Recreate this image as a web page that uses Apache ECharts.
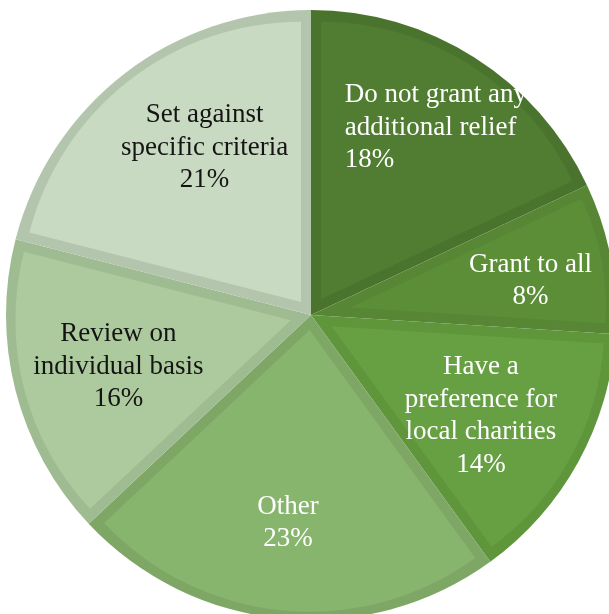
<!DOCTYPE html>
<html>
<head>
<meta charset="utf-8">
<script src="https://cdn.jsdelivr.net/npm/echarts@6/dist/echarts.min.js"></script>
<style>
  html, body { margin: 0; padding: 0; background: #ffffff; }
  #chart { width: 609px; height: 614px; }
</style>
</head>
<body>
<div id="chart"></div>
<script>
// Slices, clockwise from 12 o'clock
const categories = [
  'Do not grant any additional relief',
  'Grant to all',
  'Have a preference for local charities',
  'Other',
  'Review on individual basis',
  'Set against specific criteria'
];
const shares = [18, 8, 14, 23, 16, 21];
const labelLines = [
  ['Do not grant any', 'additional relief'],
  ['Grant to all'],
  ['Have a', 'preference for', 'local charities'],
  ['Other'],
  ['Review on', 'individual basis'],
  ['Set against', 'specific criteria']
];

// Styling
const fillColors = ['#507d32', '#5c8e38', '#67a042', '#87b56d', '#acca9d', '#c8dac1'];
const edgeColors = ['#4a742d', '#578634', '#5f953b', '#7ea766', '#9fbb91', '#b3c6ad'];
const textColors = ['#ffffff', '#ffffff', '#ffffff', '#ffffff', '#141414', '#141414'];
const labelNudge = [[23, -16], [20, 4], [-8, 3], [-4, 6], [4, 1], [18, -7]];
const leftAlignedLabel = [true, false, false, false, false, false];

const CX = 311, CY = 315, R = 305, BAND = 10, LABEL_R = 200;
const FONT = '"Liberation Serif", "Times New Roman", serif';
const FONT_SIZE = 27, LINE_H = 32.5;

const total = shares.reduce((a, b) => a + b, 0);
const transparent = 'rgba(0,0,0,0)';
const common = {
  type: 'pie',
  startAngle: 90,
  clockwise: true,
  silent: true,
  animation: false,
  emphasis: { disabled: true },
  labelLine: { show: false }
};

const series = [];

// Full-size pie in the darker edge colours: shows as a band round each slice
series.push(Object.assign({}, common, {
  center: [CX, CY],
  radius: [0, R],
  label: { show: false },
  data: categories.map((name, i) => ({
    name, value: shares[i],
    itemStyle: { color: edgeColors[i], borderWidth: 0 }
  }))
}));

// Each slice's inner fill: same angles, apex moved along the bisector so the
// straight edges sit BAND px inside the slice edges
let acc = 0;
shares.forEach((v, k) => {
  const half = Math.PI * v / total;
  const mid = 2 * Math.PI * (acc + v / 2) / total;
  acc += v;
  const shift = BAND / Math.sin(half);
  const r = R - BAND - shift * (1 + Math.cos(half)) / 2;
  series.push(Object.assign({}, common, {
    center: [CX + shift * Math.sin(mid), CY - shift * Math.cos(mid)],
    radius: [0, r],
    label: { show: false },
    data: categories.map((name, i) => ({
      name, value: shares[i],
      itemStyle: { color: i === k ? fillColors[i] : transparent, borderWidth: 0 }
    }))
  }));
});

// Transparent pie that carries the slice labels
series.push(Object.assign({}, common, {
  center: [CX, CY],
  radius: [0, LABEL_R * 2],
  z: 10,
  label: {
    show: true,
    position: 'inside',
    fontFamily: FONT,
    fontSize: FONT_SIZE,
    lineHeight: LINE_H
  },
  data: categories.map((name, i) => {
    const lines = labelLines[i].concat([shares[i] + '%']);
    const item = {
      name, value: shares[i],
      itemStyle: { color: transparent, borderWidth: 0 },
      label: {
        color: textColors[i],
        offset: labelNudge[i],
        formatter: leftAlignedLabel[i]
          ? lines.map(t => '{l|' + t + '}').join('\n')
          : lines.join('\n')
      }
    };
    if (leftAlignedLabel[i]) {
      item.label.rich = {
        l: {
          width: 196, align: 'left', color: textColors[i],
          fontFamily: FONT, fontSize: FONT_SIZE, lineHeight: LINE_H
        }
      };
    }
    return item;
  })
}));

const chart = echarts.init(document.getElementById('chart'), null, { renderer: 'canvas' });
chart.setOption({ backgroundColor: '#ffffff', animation: false, series });
</script>
</body>
</html>
